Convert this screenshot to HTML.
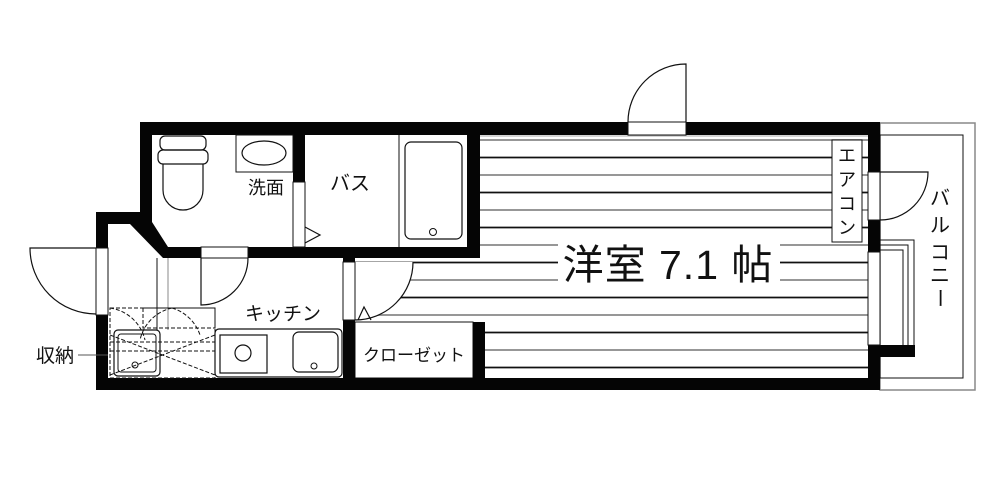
<!DOCTYPE html>
<html><head><meta charset="utf-8"><style>
html,body{margin:0;padding:0;background:#fff;width:1000px;height:500px;overflow:hidden}
svg{display:block}
text{font-family:"Liberation Sans","Noto Sans CJK JP",sans-serif;fill:#111}
</style></head><body>
<svg width="1000" height="500" viewBox="0 0 1000 500" xmlns="http://www.w3.org/2000/svg">
<!-- balcony -->
<rect x="880" y="123" width="95" height="267" fill="none" stroke="#888" stroke-width="1.5"/>
<rect x="880" y="135" width="83" height="243" fill="none" stroke="#111" stroke-width="1"/>
<!-- floor lines main room -->
<g stroke-width="1.8">
<line x1="480" y1="140" x2="868" y2="140" stroke="#888"/>
<line x1="480" y1="157.5" x2="868" y2="157.5" stroke="#111"/>
<line x1="480" y1="175" x2="868" y2="175" stroke="#888"/>
<line x1="480" y1="192.5" x2="868" y2="192.5" stroke="#111"/>
<line x1="480" y1="210" x2="868" y2="210" stroke="#888"/>
<line x1="480" y1="227.5" x2="868" y2="227.5" stroke="#111"/>
<line x1="480" y1="245" x2="868" y2="245" stroke="#888"/>
<line x1="355" y1="262.5" x2="868" y2="262.5" stroke="#111"/>
<line x1="355" y1="280" x2="868" y2="280" stroke="#888"/>
<line x1="355" y1="297.5" x2="868" y2="297.5" stroke="#111"/>
<line x1="355" y1="315" x2="868" y2="315" stroke="#888"/>
<line x1="485" y1="332.5" x2="868" y2="332.5" stroke="#111"/>
<line x1="485" y1="350" x2="868" y2="350" stroke="#888"/>
<line x1="485" y1="367.5" x2="868" y2="367.5" stroke="#111"/>
</g>
<line x1="480" y1="136" x2="868" y2="136" stroke="#aaa" stroke-width="1"/>
<!-- closet door sector -->
<path d="M355 262 L413 262 A58 58 0 0 1 355 320 Z" fill="#fff"/>
<path d="M413 262 A58 58 0 0 1 355 320" fill="none" stroke="#111" stroke-width="1.2"/>
<path d="M358 320 L364 307 L371 320" fill="none" stroke="#111" stroke-width="1.2"/>
<!-- closet -->
<rect x="355" y="322" width="118" height="56" fill="#fff" stroke="#111" stroke-width="1"/>
<text x="414" y="361" font-size="17" text-anchor="middle">クローゼット</text>
<!-- walls -->
<g fill="#050505">
<rect x="140" y="122" width="740" height="13"/>
<rect x="140" y="122" width="12" height="100"/>
<path d="M96 212 L152 212 L152 222 L168 247 L480 247 L480 258 L163 258 L130 224 L108 224 L108 390 L96 390 Z"/>
<rect x="96" y="378" width="784" height="12"/>
<rect x="293" y="135" width="12" height="47"/>
<rect x="467" y="122" width="13" height="136"/>
<rect x="343" y="258" width="12" height="4"/>
<rect x="343" y="320" width="12" height="58"/>
<rect x="473" y="322" width="12" height="56"/>
<rect x="868" y="122" width="12" height="50"/>
<rect x="868" y="220" width="12" height="32"/>
<rect x="868" y="345" width="12" height="45"/>
<rect x="868" y="345" width="47" height="12"/>
</g>
<!-- openings -->
<rect x="628" y="122" width="58" height="13" fill="#fff" stroke="#111" stroke-width="1"/>
<path d="M686 122 L686 64 A58 58 0 0 0 628 122" fill="none" stroke="#111" stroke-width="1.2"/>
<rect x="201" y="247" width="47" height="11" fill="#fff" stroke="#111" stroke-width="1"/>
<path d="M201 258 L201 305 A47 47 0 0 0 248 258" fill="none" stroke="#111" stroke-width="1.2"/>
<rect x="96" y="248" width="12" height="67" fill="#fff" stroke="#111" stroke-width="1"/>
<path d="M96 248 L30 248 A66 66 0 0 0 96 314" fill="none" stroke="#111" stroke-width="1.2"/>
<rect x="343" y="262" width="12" height="58" fill="#fff" stroke="#111" stroke-width="1"/>
<rect x="293" y="182" width="12" height="65" fill="#fff" stroke="#111" stroke-width="1"/>
<path d="M305 227 L320 235 L305 243" fill="none" stroke="#111" stroke-width="1.2"/>
<rect x="868" y="172" width="12" height="48" fill="#fff" stroke="#111" stroke-width="1"/>
<path d="M880 172 L928 172 A48 48 0 0 1 880 220" fill="none" stroke="#111" stroke-width="1.2"/>
<rect x="868" y="252" width="12" height="93" fill="#fff" stroke="#111" stroke-width="1"/>
<path d="M880 240 L914 240 L914 345 M880 245 L908 245 L908 345 M880 250 L903 250 L903 345" fill="none" stroke="#111" stroke-width="1"/>
<!-- aircon -->
<rect x="832" y="140" width="30" height="102" fill="#fff" stroke="#111" stroke-width="1"/>
<text font-size="18" text-anchor="middle"><tspan x="847" y="162">エ</tspan><tspan x="847" y="186">ア</tspan><tspan x="847" y="210">コ</tspan><tspan x="847" y="234">ン</tspan></text>
<text font-size="20" text-anchor="middle"><tspan x="940" y="205">バ</tspan><tspan x="940" y="232">ル</tspan><tspan x="940" y="259">コ</tspan><tspan x="940" y="282">ニ</tspan></text>
<text font-size="20" text-anchor="middle" transform="translate(940 298) rotate(90)" x="0" y="7">ー</text>
<!-- room label -->
<rect x="558" y="238" width="222" height="48" fill="#fff"/>
<text x="668" y="279" font-size="41" text-anchor="middle" letter-spacing="1">洋室 7.1 帖</text>
<!-- toilet -->
<rect x="160" y="136" width="46" height="14" rx="5" fill="none" stroke="#111" stroke-width="1.2"/>
<rect x="158" y="150" width="50" height="14" rx="5" fill="none" stroke="#111" stroke-width="1.2"/>
<path d="M163 164 L163 190 A20 20 0 0 0 203 190 L203 164" fill="none" stroke="#111" stroke-width="1.2"/>
<!-- basin -->
<rect x="236" y="135" width="57" height="37" fill="none" stroke="#111" stroke-width="1"/>
<ellipse cx="264" cy="153" rx="22" ry="12" fill="none" stroke="#111" stroke-width="1.2"/>
<text x="266" y="194" font-size="18" text-anchor="middle">洗面</text>
<text x="350" y="190" font-size="20" text-anchor="middle">バス</text>
<!-- bathtub -->
<line x1="399" y1="135" x2="399" y2="247" stroke="#111" stroke-width="1"/>
<rect x="405" y="142" width="57" height="97" rx="6" fill="none" stroke="#111" stroke-width="1.2"/>
<circle cx="433" cy="232" r="3.5" fill="none" stroke="#111"/>
<!-- kitchen -->
<line x1="157" y1="258" x2="157" y2="330" stroke="#111" stroke-width="1"/>
<line x1="168" y1="258" x2="168" y2="330" stroke="#888" stroke-width="1"/>
<text x="283" y="320" font-size="19" text-anchor="middle">キッチン</text>
<rect x="215" y="329" width="127" height="48" rx="4" fill="none" stroke="#111" stroke-width="1.2"/>
<rect x="220" y="335" width="47" height="38" fill="none" stroke="#111" stroke-width="1.2"/>
<circle cx="243" cy="353" r="8" fill="none" stroke="#111" stroke-width="1.2"/>
<rect x="293" y="332" width="45" height="40" rx="6" fill="none" stroke="#111" stroke-width="1.2"/>
<circle cx="314" cy="366" r="3" fill="none" stroke="#111"/>
<!-- storage -->
<g fill="none" stroke="#111" stroke-width="1" stroke-dasharray="4,2">
<rect x="110" y="308" width="105" height="70"/>
<line x1="110" y1="342" x2="215" y2="342"/>
<line x1="110" y1="351" x2="215" y2="351"/>
<line x1="110" y1="375" x2="215" y2="335"/>
<line x1="110" y1="335" x2="215" y2="375"/>
<path d="M110 308 A42 42 0 0 1 145 340"/>
<path d="M172 308 A42 42 0 0 0 140 340"/>
<path d="M172 308 A42 42 0 0 1 200 335"/>
<rect x="143" y="308" width="72" height="20"/>
</g>
<rect x="114" y="330" width="46" height="46" rx="4" fill="none" stroke="#111" stroke-width="1.2"/>
<rect x="118" y="334" width="38" height="38" rx="3" fill="none" stroke="#111" stroke-width="1"/>
<circle cx="135" cy="365" r="3" fill="none" stroke="#111"/>
<text x="55" y="362" font-size="19" text-anchor="middle">収納</text>
<line x1="78" y1="355" x2="108" y2="355" stroke="#555" stroke-width="1"/>
</svg>
</body></html>
